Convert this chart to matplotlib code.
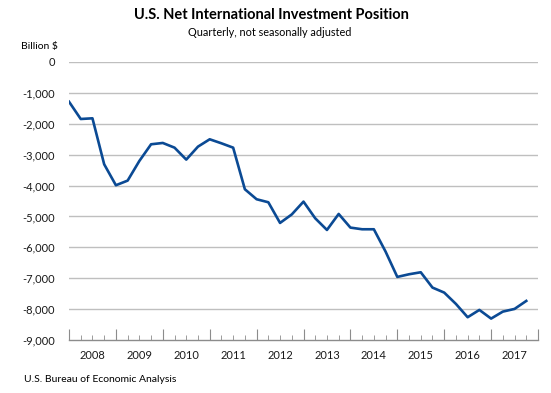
import matplotlib.pyplot as plt
import numpy as np

# data: quarterly NIIP, 2007Q4 - 2017Q3 (billion $)
niip = [-1285, -1845, -1823, -3311, -3990, -3840, -3204, -2664,
        -2621, -2773, -3160, -2740, -2502, -2632, -2773, -4120,
        -4443, -4541, -5210, -4935, -4520, -5060, -5437, -4919,
        -5361, -5415, -5415, -6138, -6958, -6872, -6807, -7303,
        -7465, -7832, -8263, -8026, -8307, -8081, -7994, -7735]
years = ['2008', '2009', '2010', '2011', '2012', '2013', '2014', '2015', '2016', '2017']
yticks = [0, -1000, -2000, -3000, -4000, -5000, -6000, -7000, -8000, -9000]

plt.rcParams['font.family'] = ['Lato', 'DejaVu Sans']

fig = plt.figure(figsize=(5.51, 3.93), dpi=100)
ax = fig.add_axes([69 / 551, 1 - 340 / 393, 469 / 551, 278 / 393])

x = np.arange(len(niip))
ax.plot(x, niip, color='#0b4a94', lw=1.9, zorder=3)

ax.set_xlim(0, 40)
ax.set_ylim(-9000, 0)

# gridlines
for v in yticks[:-1]:
    ax.axhline(v, color='#bfbfbf', lw=1, zorder=1)

ax.set_yticks(yticks)
ax.set_yticklabels([f'{v:,}' for v in yticks])
ax.tick_params(axis='y', length=0, pad=10, labelsize=8, labelcolor='#1a1a1a')

# x axis: minor ticks every quarter, major every year, year labels centred
ax.set_xticks(np.arange(0, 41, 4))
ax.set_xticks(np.arange(0, 41, 1), minor=True)
ax.tick_params(axis='x', which='major', direction='in', length=8, color='#8c8c8c',
               labelbottom=False)
ax.tick_params(axis='x', which='minor', direction='in', length=3.5, color='#8c8c8c')
for i, yr in enumerate(years):
    ax.annotate(yr, xy=(i * 4 + 2, 0), xycoords=('data', 'axes fraction'),
                xytext=(0, -7), textcoords='offset points',
                ha='center', va='top', fontsize=8, color='#1a1a1a')

for s in ['top', 'right', 'left']:
    ax.spines[s].set_visible(False)
ax.spines['bottom'].set_color('#8c8c8c')
ax.spines['bottom'].set_linewidth(1)

fig.text(271 / 551, 1 - 15 / 393, 'U.S. Net International Investment Position',
         ha='center', va='center', fontsize=10.5, fontweight='bold', color='#000000')
fig.text(270 / 551, 1 - 33 / 393, 'Quarterly, not seasonally adjusted',
         ha='center', va='center', fontsize=7.8, color='#000000')
fig.text(21 / 551, 1 - 46 / 393, 'Billion $', ha='left', va='center', fontsize=7.5,
         color='#000000')
fig.text(24 / 551, 1 - 379 / 393, 'U.S. Bureau of Economic Analysis', ha='left',
         va='center', fontsize=7.5, color='#000000')

fig.savefig('out.png', dpi=100)
